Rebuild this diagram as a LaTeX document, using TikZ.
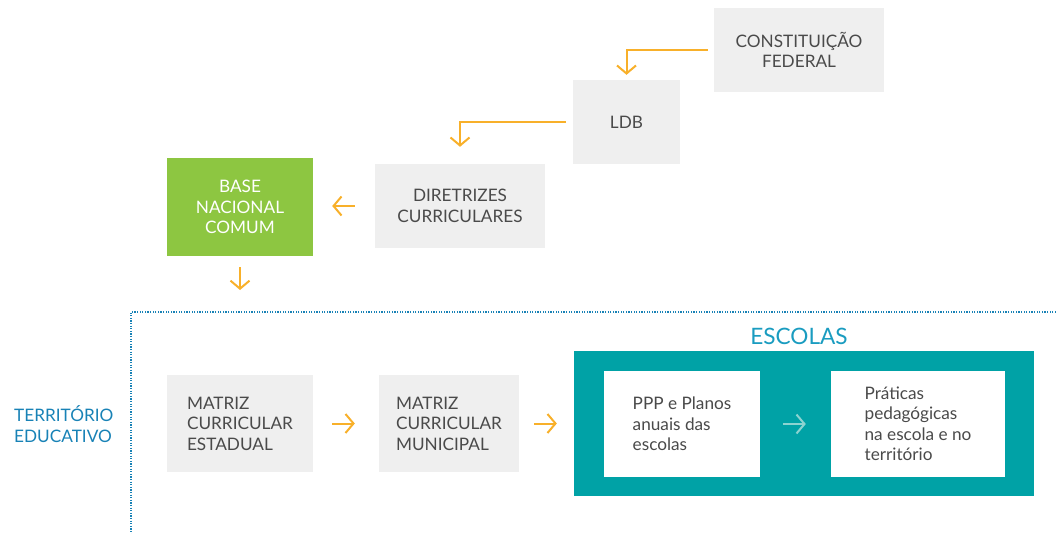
\documentclass[tikz,border=0pt]{standalone}
\usepackage{fontspec}
\setmainfont{Lato}
\usepackage{xcolor}
\usetikzlibrary{arrows.meta}

\definecolor{boxgray}{HTML}{EFEFEF}
\definecolor{textgray}{HTML}{4A4A4A}
\definecolor{bncgreen}{HTML}{8DC641}
\definecolor{schoolteal}{HTML}{00A2A6}
\definecolor{flowyellow}{HTML}{F8B02A}
\definecolor{flowlight}{HTML}{8CD3D0}
\definecolor{terrblue}{HTML}{1882B6}
\definecolor{escblue}{HTML}{1A9CC0}

\tikzset{
	box/.style={fill=boxgray, text=textgray, inner sep=0pt,
		font=\fontsize{17.2}{20.5}\selectfont},
	greenbox/.style={box, fill=bncgreen, text=white},
	whitebox/.style={box, fill=white},
	flow/.style={draw=flowyellow, line width=2pt,
		-{Straight Barb[length=8pt, width=19pt]}},
	flowlight/.style={flow, draw=flowlight},
	frame/.style={draw=terrblue, line width=1.6pt, dash pattern=on 1.2pt off 1.4pt}
}

\begin{document}
\begin{tikzpicture}[x=1pt, y=-1pt]
	\useasboundingbox (0,0) rectangle (1056,534);

	% Legal framework
	\node[box, minimum width=170pt, minimum height=84pt, align=center] (cf) at (799,50) {CONSTITUIÇÃO\\FEDERAL};
	\node[box, minimum width=107pt, minimum height=84pt] (ldb) at (626.5,122) {LDB};
	\node[box, minimum width=170pt, minimum height=84pt, align=center] (dcn) at (460,206) {DIRETRIZES\\CURRICULARES};
	\node[greenbox, minimum width=146pt, minimum height=98pt, align=center] (bnc) at (240,207) {BASE\\NACIONAL\\COMUM};

	\draw[flow, shorten <=6pt, shorten >=5pt] (cf.west) -| (ldb.north);
	\draw[flow, shorten <=7pt, shorten >=17pt] (ldb.west) -| (dcn.north);
	\draw[flow, shorten <=20pt, shorten >=19pt] (dcn.west) -- (bnc.east |- dcn.west);

	% Territory frame
	\coordinate (frametop) at (131,312);
	\draw[frame] (1056,312) -- (frametop) -- (131,534);
	\draw[flow, shorten <=11pt, shorten >=22pt] (bnc.south) -- (bnc.south |- frametop);

	\node[anchor=west, align=left, inner sep=0pt, text=terrblue, font=\fontsize{17.2}{20.5}\selectfont] (terr) at (14,424) {TERRITÓRIO\\EDUCATIVO};

	% Curricula
	\node[box, minimum width=146pt, minimum height=97pt, align=left] (est) at (240,423.5) {MATRIZ\\CURRICULAR\\ESTADUAL};
	\node[box, minimum width=140pt, minimum height=97pt, align=left] (mun) at (449,423.5) {MATRIZ\\CURRICULAR\\MUNICIPAL};

	% Schools
	\node[fill=schoolteal, minimum width=460pt, minimum height=145pt, inner sep=0pt] (sch) at (804,423.5) {};
	\node[text=escblue, font=\fontsize{22.6}{24}\selectfont, inner sep=0pt] (esc) at (799,336) {ESCOLAS};
	\node[whitebox, minimum width=156pt, minimum height=106pt, align=left] (ppp) at (682,424) {PPP e Planos\\anuais das\\escolas};
	\node[whitebox, minimum width=174pt, minimum height=106pt, align=left] (prat) at (918,424) {Práticas\\pedagógicas\\na escola e no\\território};

	\draw[flow, shorten <=19pt, shorten >=24pt] (est.east) -- (mun.west);
	\draw[flow, shorten <=15pt, shorten >=17pt] (mun.east) -- (sch.west |- mun.east);
	\draw[flowlight, shorten <=23pt, shorten >=25pt] (ppp.east) -- (prat.west);
\end{tikzpicture}
\end{document}
